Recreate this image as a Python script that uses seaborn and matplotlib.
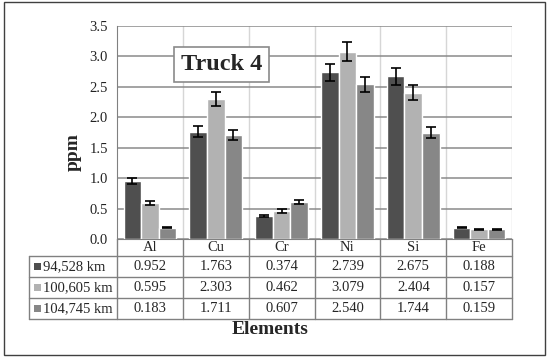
import numpy as np
import pandas as pd
import seaborn as sns
import matplotlib.pyplot as plt
import matplotlib.transforms as mtransforms
from matplotlib.lines import Line2D
from matplotlib.patches import Rectangle
from matplotlib.ticker import MultipleLocator, FormatStrFormatter

# data
elements = ['Al', 'Cu', 'Cr', 'Ni', 'Si', 'Fe']
mileages = ['94,528 km', '100,605 km', '104,745 km']
ppm_94528 = [0.952, 1.763, 0.374, 2.739, 2.675, 0.188]
ppm_100605 = [0.595, 2.303, 0.462, 3.079, 2.404, 0.157]
ppm_104745 = [0.183, 1.711, 0.607, 2.540, 1.744, 0.159]
err_94528 = [0.05, 0.088, 0.02, 0.14, 0.137, 0.01]
err_100605 = [0.03, 0.11, 0.035, 0.16, 0.12, 0.006]
err_104745 = [0.01, 0.088, 0.033, 0.13, 0.09, 0.006]
colors = ['#4f4f4f', '#b2b2b2', '#878787']

values = [ppm_94528, ppm_100605, ppm_104745]
errors = [err_94528, err_100605, err_104745]

rows = []
for m, vals in zip(mileages, values):
    for el, v in zip(elements, vals):
        rows.append({'Element': el, 'Mileage': m, 'ppm': v})
df = pd.DataFrame(rows)

sns.set_style('white')
plt.rcParams['font.family'] = ['Liberation Serif', 'DejaVu Serif']

W, H = 547, 357
fig = plt.figure(figsize=(W / 100, H / 100), dpi=100)
ax = fig.add_axes([117 / W, 1 - 239 / H, (512 - 117) / W, (239 - 26) / H])

sns.barplot(data=df, x='Element', y='ppm', hue='Mileage', order=elements,
            hue_order=mileages, palette=colors, saturation=1, errorbar=None,
            legend=False, width=0.8, ax=ax, zorder=2)

# error bars on the bar centres
for cont, errs in zip(ax.containers, errors):
    xs = [b.get_x() + b.get_width() / 2 for b in cont]
    hs = [b.get_height() for b in cont]
    ax.errorbar(xs, hs, yerr=errs, fmt='none', ecolor='black', elinewidth=1.2,
                capsize=3.5, capthick=1.2, zorder=3)

ax.set_xlim(-0.5, len(elements) - 0.5)
ax.set_ylim(0, 3.5)
ax.yaxis.set_major_locator(MultipleLocator(0.5))
ax.yaxis.set_minor_locator(MultipleLocator(0.05))
ax.yaxis.set_major_formatter(FormatStrFormatter('%.1f'))
ax.tick_params(axis='y', which='major', direction='inout', length=7, width=1,
               color='#707070', labelsize=10.5, labelcolor='#222222', pad=3)
ax.tick_params(axis='y', which='minor', direction='inout', length=5, width=0.8,
               color='#707070')
ax.set_xticks([])
ax.set_xlabel('')
ax.set_ylabel('')
ax.grid(axis='y', color='#8a8a8a', lw=1.1, zorder=0)
ax.set_axisbelow(True)
for i in range(1, len(elements) + 1):
    ax.axvline(i - 0.5, color='#d6d6d6', lw=1, zorder=0)
for s in ['top', 'right']:
    ax.spines[s].set_visible(False)
ax.spines['left'].set_color('#808080')
ax.spines['bottom'].set_color('#808080')

# data table under the axis
def fy(y):
    return 1 - y / H

blend = mtransforms.blended_transform_factory(ax.transData, fig.transFigure)
line_kw = dict(color='#808080', lw=1)
row_edges = [239, 256, 277, 298, 319]

# horizontal lines
for y in row_edges[1:]:
    fig.add_artist(Line2D([29 / W, 512 / W], [fy(y), fy(y)], transform=fig.transFigure, **line_kw))
# vertical lines
fig.add_artist(Line2D([29 / W, 29 / W], [fy(256), fy(319)], transform=fig.transFigure, **line_kw))
for i in range(len(elements) + 1):
    fig.add_artist(Line2D([i - 0.5, i - 0.5], [fy(239), fy(319)], transform=blend, **line_kw))

for i, el in enumerate(elements):
    fig.text(i, fy(247.5), el, transform=blend, ha='center', va='center', fontsize=10.5)

for r, (m, vals, c) in enumerate(zip(mileages, values, colors)):
    yc = (row_edges[r + 1] + row_edges[r + 2]) / 2
    fig.add_artist(Rectangle((34 / W, fy(yc + 3.5)), 7 / W, 7 / H,
                             transform=fig.transFigure, color=c, lw=0))
    fig.text(43 / W, fy(yc), m, ha='left', va='center', fontsize=10.5)
    for i, v in enumerate(vals):
        fig.text(i, fy(yc), f'{v:.3f}', transform=blend, ha='center', va='center', fontsize=10.5)

fig.text(270 / W, fy(329), 'Elements', ha='center', va='center', fontsize=14, fontweight='bold')
fig.text(73 / W, fy(152), 'ppm', ha='center', va='center', rotation=90, fontsize=14, fontweight='bold')

fig.text(221.5 / W, fy(64.5), 'Truck 4', ha='center', va='center', fontsize=17.5, fontweight='bold',
         bbox=dict(boxstyle='square,pad=0.3', facecolor='white', edgecolor='#8a8a8a', lw=1.2))

# outer frame
fig.add_artist(Rectangle((4 / W, fy(355)), 541 / W, 353 / H, transform=fig.transFigure,
                         fill=False, edgecolor='#404040', lw=1))

fig.savefig('out.png', dpi=100)
